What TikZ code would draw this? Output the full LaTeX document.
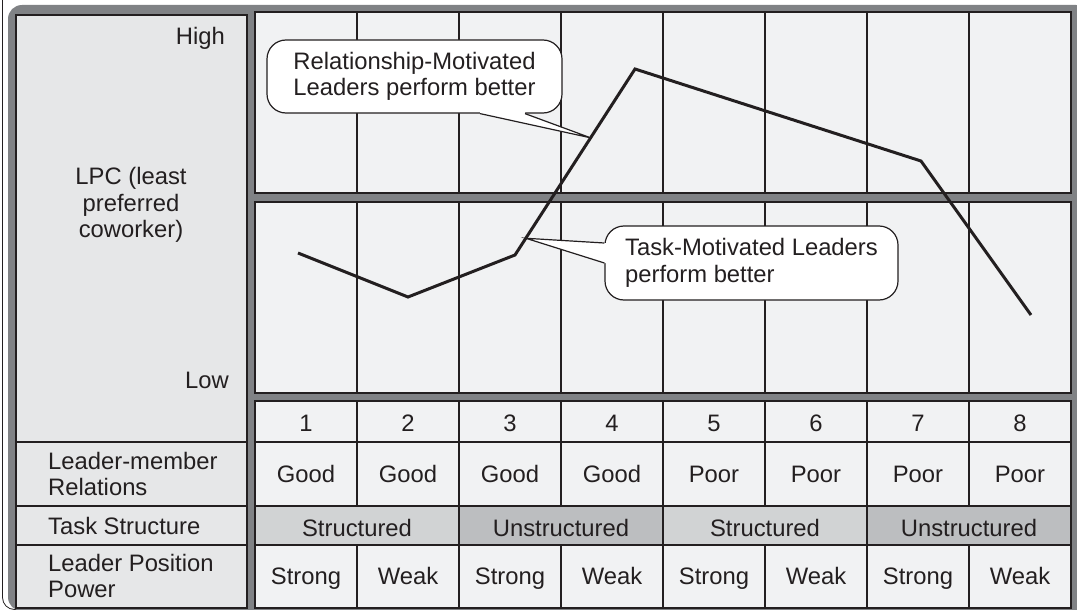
\documentclass[tikz,border=0pt]{standalone}
\usepackage{fontspec}
\setmainfont{Liberation Sans}
\usetikzlibrary{calc}
\definecolor{framegray}{HTML}{808285}
\definecolor{panelgray}{HTML}{E6E7E8}
\definecolor{cellgray}{HTML}{F1F2F3}
\definecolor{structgray}{HTML}{D1D3D4}
\definecolor{unstructgray}{HTML}{BCBEC0}
\definecolor{inkdark}{HTML}{231F20}
\tikzset{
  cellline/.style={draw=inkdark, line width=1.2pt},
  lbl/.style={inner sep=0pt, text=inkdark, font=\fontsize{23.8}{26.5}\selectfont},
  callbox/.style={lbl, draw=inkdark, line width=1.2pt, fill=white, rounded corners=19pt, align=left},
  perfline/.style={draw=inkdark, line width=3pt}
}

\begin{document}
\begin{tikzpicture}[x=1pt,y=1pt]
            \useasboundingbox (0,0) rectangle (1077,-610);
            \clip (0,0) rectangle (1077,-610);
            \fill [white] (0,0) rectangle (1077,-610);
            \draw [inkdark, line width=0.8pt, rounded corners=12pt] (2.5,30) rectangle (1100,-609.5);
            \fill [framegray, rounded corners=14pt] (8,-5) rectangle (1090,-611);
            \draw [cellline, fill=panelgray] (16,-15) rectangle (247,-608);
            \draw [cellline] (16,-442) -- (247,-442);
            \draw [cellline] (16,-506) -- (247,-506);
            \draw [cellline] (16,-545) -- (247,-545);
            \draw [cellline, fill=cellgray] (255,-12) rectangle (1071,-193);
            \draw [cellline, fill=cellgray] (255,-202) rectangle (1071,-393);
            \draw [cellline, fill=cellgray] (255,-401) rectangle (1071,-608);
            \draw [cellline, fill=structgray] (255,-506) rectangle (459,-545);
            \draw [cellline, fill=unstructgray] (459,-506) rectangle (663,-545);
            \draw [cellline, fill=structgray] (663,-506) rectangle (867,-545);
            \draw [cellline, fill=unstructgray] (867,-506) rectangle (1071,-545);
            \draw [cellline] (255,-442) -- (1071,-442);
            \draw [cellline] (357,-12) -- (357,-193);
            \draw [cellline] (459,-12) -- (459,-193);
            \draw [cellline] (561,-12) -- (561,-193);
            \draw [cellline] (663,-12) -- (663,-193);
            \draw [cellline] (765,-12) -- (765,-193);
            \draw [cellline] (867,-12) -- (867,-193);
            \draw [cellline] (969,-12) -- (969,-193);
            \draw [cellline] (357,-202) -- (357,-393);
            \draw [cellline] (459,-202) -- (459,-393);
            \draw [cellline] (561,-202) -- (561,-393);
            \draw [cellline] (663,-202) -- (663,-393);
            \draw [cellline] (765,-202) -- (765,-393);
            \draw [cellline] (867,-202) -- (867,-393);
            \draw [cellline] (969,-202) -- (969,-393);
            \draw [cellline] (357,-401) -- (357,-506);
            \draw [cellline] (459,-401) -- (459,-506);
            \draw [cellline] (561,-401) -- (561,-506);
            \draw [cellline] (663,-401) -- (663,-506);
            \draw [cellline] (765,-401) -- (765,-506);
            \draw [cellline] (867,-401) -- (867,-506);
            \draw [cellline] (969,-401) -- (969,-506);
            \draw [cellline] (357,-545) -- (357,-608);
            \draw [cellline] (459,-545) -- (459,-608);
            \draw [cellline] (561,-545) -- (561,-608);
            \draw [cellline] (663,-545) -- (663,-608);
            \draw [cellline] (765,-545) -- (765,-608);
            \draw [cellline] (867,-545) -- (867,-608);
            \draw [cellline] (969,-545) -- (969,-608);
            \node [lbl, anchor=base east] (high) at (225,-45) {High};
            \node [lbl, align=center] (lpc) at (131,-205) {LPC (least\\preferred\\coworker)};
            \node [lbl, anchor=base east] (low) at (229,-388) {Low};
            \node [lbl, anchor=west, align=left] (lmrel) at (48,-474) {Leader-member\\Relations};
            \node [lbl, anchor=base west] (taskstr) at (48,-534) {Task Structure};
            \node [lbl, anchor=west, align=left] (lpower) at (48,-576) {Leader Position\\Power};
            \node [lbl, anchor=base] (num1) at (306,-431.5) {1};
            \node [lbl, anchor=base] (num2) at (408,-431.5) {2};
            \node [lbl, anchor=base] (num3) at (510,-431.5) {3};
            \node [lbl, anchor=base] (num4) at (612,-431.5) {4};
            \node [lbl, anchor=base] (num5) at (714,-431.5) {5};
            \node [lbl, anchor=base] (num6) at (816,-431.5) {6};
            \node [lbl, anchor=base] (num7) at (918,-431.5) {7};
            \node [lbl, anchor=base] (num8) at (1020,-431.5) {8};
            \node [lbl, anchor=base] (rel1) at (306,-482) {Good};
            \node [lbl, anchor=base] (rel2) at (408,-482) {Good};
            \node [lbl, anchor=base] (rel3) at (510,-482) {Good};
            \node [lbl, anchor=base] (rel4) at (612,-482) {Good};
            \node [lbl, anchor=base] (rel5) at (714,-482) {Poor};
            \node [lbl, anchor=base] (rel6) at (816,-482) {Poor};
            \node [lbl, anchor=base] (rel7) at (918,-482) {Poor};
            \node [lbl, anchor=base] (rel8) at (1020,-482) {Poor};
            \node [lbl, anchor=base] (struct1) at (357,-536.5) {Structured};
            \node [lbl, anchor=base] (unstruct1) at (561,-536.5) {Unstructured};
            \node [lbl, anchor=base] (struct2) at (765,-536.5) {Structured};
            \node [lbl, anchor=base] (unstruct2) at (969,-536.5) {Unstructured};
            \node [lbl, anchor=base] (pow1) at (306,-584) {Strong};
            \node [lbl, anchor=base] (pow2) at (408,-584) {Weak};
            \node [lbl, anchor=base] (pow3) at (510,-584) {Strong};
            \node [lbl, anchor=base] (pow4) at (612,-584) {Weak};
            \node [lbl, anchor=base] (pow5) at (714,-584) {Strong};
            \node [lbl, anchor=base] (pow6) at (816,-584) {Weak};
            \node [lbl, anchor=base] (pow7) at (918,-584) {Strong};
            \node [lbl, anchor=base] (pow8) at (1020,-584) {Weak};
            \coordinate (p1) at (298,-253);
            \coordinate (p2) at (408,-297);
            \coordinate (p3) at (515,-255);
            \coordinate (p4) at (635,-69);
            \coordinate (p5) at (921,-161);
            \coordinate (p6) at (1031,-315);
            \draw [perfline] (p1) -- (p2) -- (p3) -- (p4) -- (p5) -- (p6);
            \coordinate (reltip) at ($(p3)!0.63!(p4)$);
            \coordinate (tasktip) at ($(p3)!0.09!(p4)$);
            \node [callbox, minimum width=295pt, minimum height=73pt] (relbox) at (414.5,-76.5) {Relationship-Motivated\\Leaders perform better};
            \node [callbox, minimum width=293pt, minimum height=74pt] (taskbox) at (751.5,-263) {Task-Motivated Leaders\\perform better};
            \fill [white] ([xshift=65.5pt,yshift=5pt]relbox.south) -- ([xshift=65.5pt,yshift=-0.8pt]relbox.south) -- (reltip) -- ([xshift=110.5pt,yshift=-0.8pt]relbox.south) -- ([xshift=110.5pt,yshift=5pt]relbox.south) -- cycle;
            \draw [inkdark, line width=1.2pt] ([xshift=65.5pt]relbox.south) -- (reltip) -- ([xshift=110.5pt]relbox.south);
            \fill [white] ([xshift=5pt,yshift=20pt]taskbox.west) -- ([xshift=-0.8pt,yshift=20pt]taskbox.west) -- (tasktip) -- ([xshift=-0.8pt]taskbox.west) -- ([xshift=5pt]taskbox.west) -- cycle;
            \draw [inkdark, line width=1.2pt] ([yshift=20pt]taskbox.west) -- (tasktip) -- (taskbox.west);
        \end{tikzpicture}
\end{document}
